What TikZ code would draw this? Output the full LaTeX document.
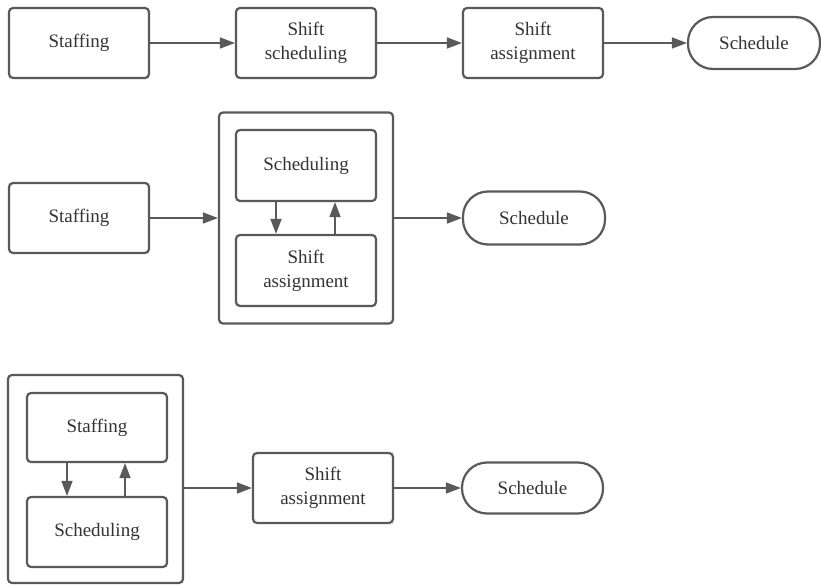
\documentclass[tikz,border=0pt]{standalone}
\usepackage{fontspec}
\setmainfont{Liberation Serif}
\newfontfamily\diafont{Liberation Serif}
\usetikzlibrary{arrows.meta}
\definecolor{edge}{HTML}{595959}
\definecolor{txt}{HTML}{333333}
\tikzset{
  procbox/.style={draw=edge, line width=2.2pt, rounded corners=4pt, minimum width=140pt, minimum height=70pt, inner sep=0pt, align=center, text=txt, font=\diafont\fontsize{19}{24}\selectfont},
  holder/.style={draw=edge, line width=2.2pt, rounded corners=4pt, inner sep=0pt},
  term/.style={draw=edge, line width=2.2pt, rounded corners=25pt, minimum width=140pt, minimum height=52pt, inner sep=0pt, align=center, text=txt, font=\diafont\fontsize{19}{24}\selectfont},
  flow/.style={draw=edge, line width=1.6pt, -{Triangle[length=15pt,width=11pt]}}
}
\begin{document}
\begin{tikzpicture}[x=1pt,y=-1pt]
\useasboundingbox (0,0) rectangle (821,585);
% Row 1
\node[procbox] (s1) at (79,43) {Staffing};
\node[procbox] (sc1) at (306,43) {Shift\\scheduling};
\node[procbox] (sa1) at (533,43) {Shift\\assignment};
\node[term, minimum width=132pt] (r1) at (754,43) {Schedule};
\draw[flow] (s1) -- (sc1);
\draw[flow] (sc1) -- (sa1);
\draw[flow] (sa1) -- (r1);
% Row 2
\node[procbox] (s2) at (79,218) {Staffing};
\node[holder, minimum width=174pt, minimum height=211pt] (c2) at (306,218) {};
\node[procbox, minimum height=71pt] (sc2) at (306,165.5) {Scheduling};
\node[procbox, minimum height=71pt] (sa2) at (306,270.5) {Shift\\assignment};
\node[term, minimum width=142pt, minimum height=53pt] (r2) at (534,218) {Schedule};
\draw[flow] (s2.east) -- (c2.west |- s2.east);
\draw[flow] (c2.east |- r2.west) -- (r2.west);
\draw[flow] ([xshift=-30pt]sc2.south) -- ([xshift=-30pt]sa2.north);
\draw[flow] ([xshift=29pt]sa2.north) -- ([xshift=29pt]sc2.south);
% Row 3
\node[holder, minimum width=175pt, minimum height=208pt] (c3) at (95.5,479) {};
\node[procbox, minimum height=69pt] (s3) at (97,427.5) {Staffing};
\node[procbox] (sc3) at (97,532) {Scheduling};
\node[procbox] (sa3) at (323,488) {Shift\\assignment};
\node[term, minimum width=141pt, minimum height=51pt] (r3) at (532.5,488) {Schedule};
\draw[flow] (c3.east |- sa3.west) -- (sa3.west);
\draw[flow] (sa3) -- (r3);
\draw[flow] ([xshift=-30pt]s3.south) -- ([xshift=-30pt]sc3.north);
\draw[flow] ([xshift=28pt]sc3.north) -- ([xshift=28pt]s3.south);
\end{tikzpicture}
\end{document}
